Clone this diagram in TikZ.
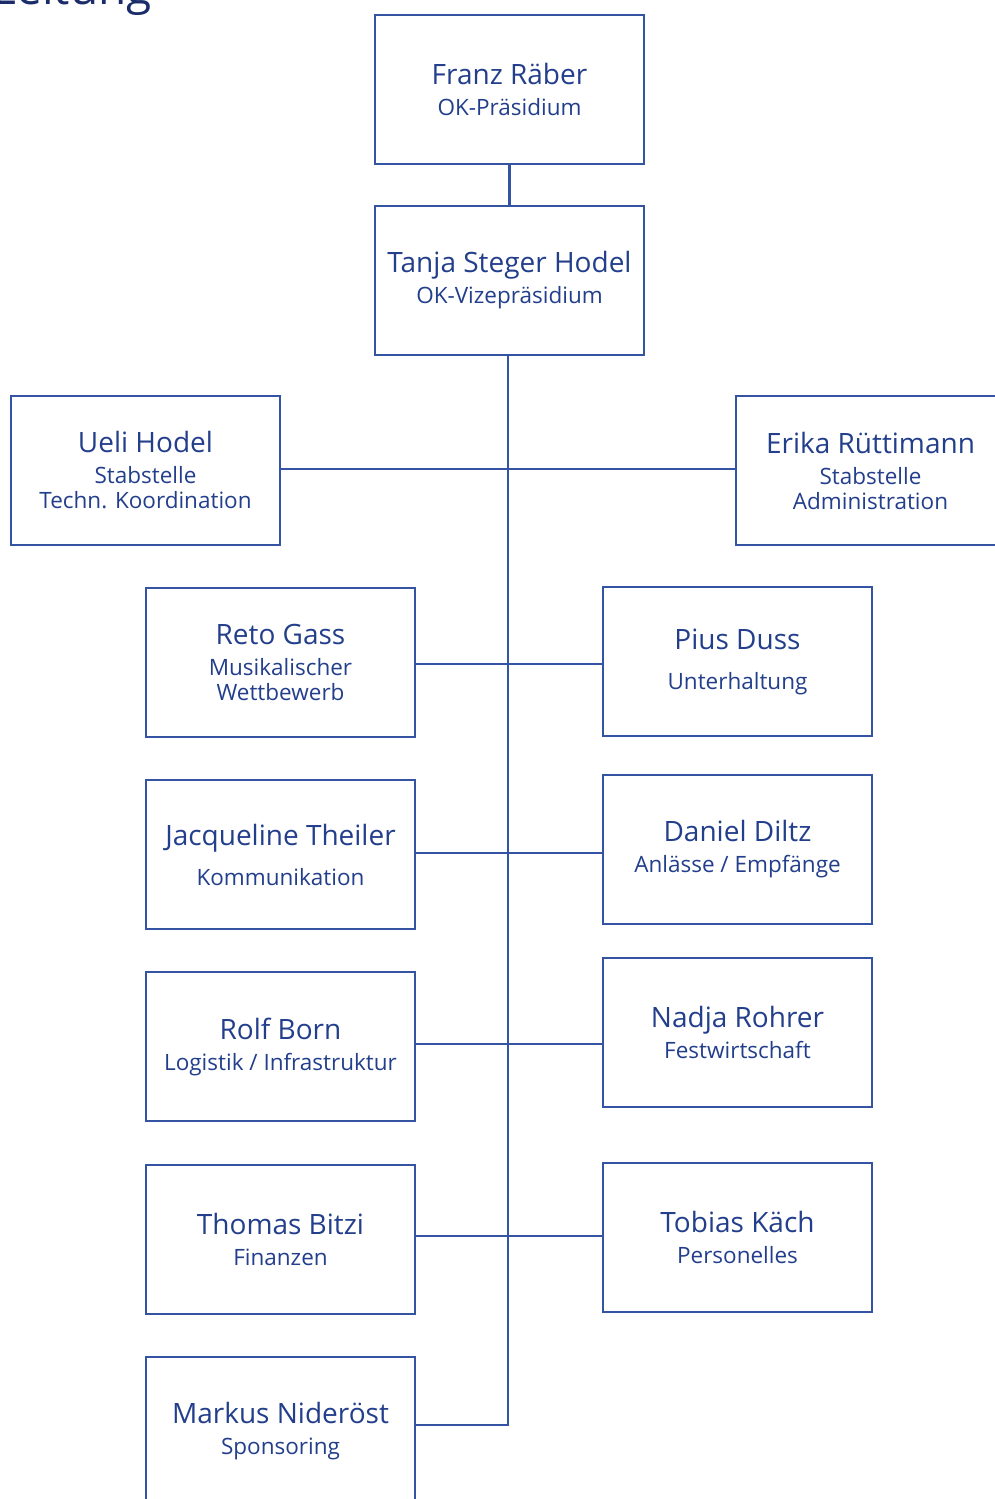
\documentclass[tikz,border=0pt]{standalone}
\usepackage{fontspec}
\setmainfont{Open Sans}
\definecolor{lineblue}{HTML}{3453A3}
\definecolor{textblue}{HTML}{233F8C}
\definecolor{headnavy}{HTML}{1B2C6A}
\newcommand{\nm}[1]{{\fontsize{28}{25}\selectfont #1}}
\newcommand{\sbt}[1]{{\fontsize{22.5}{25}\selectfont #1}}
\tikzset{
  orgbox/.style={draw=lineblue, line width=2.6pt, fill=white, minimum width=269pt, minimum height=149pt, inner sep=0pt, align=center, text=textblue, font=\fontsize{24}{25}\selectfont},
  link/.style={draw=lineblue, line width=2.6pt},
}
\begin{document}
\begin{tikzpicture}[x=1pt,y=-1pt]
\useasboundingbox (0,0) rectangle (994,1499);
\fill[white] (0,0) rectangle (994,1499);
\node[anchor=base east, text=headnavy, font=\fontsize{46}{50}\selectfont, inner sep=0pt] (head) at (152,5) {Leitung};
% spine junctions
\coordinate (spineTop) at (508,355);
\coordinate (j1) at (508,469);
\coordinate (j2) at (508,664);
\coordinate (j3) at (508,853);
\coordinate (j4) at (508,1044);
\coordinate (j5) at (508,1236);
\coordinate (j6) at (508,1425);
% boxes
\node[orgbox] (franz) at (509.5,89.5) {\nm{Franz Räber}\\[6pt]\sbt{OK-Präsidium}};
\node[orgbox] (tanja) at (509.5,280.5) {\nm{Tanja Steger Hodel}\\[6pt]\sbt{OK-Vizepräsidium}};
\node[orgbox] (ueli) at (145.5,470.5) {\nm{Ueli Hodel}\\[6pt]\sbt{Stabstelle}\\[0pt]\sbt{Techn. Koordination}};
\node[orgbox] (erika) at (870.5,470.5) {\nm{Erika Rüttimann}\\[6pt]\sbt{Stabstelle}\\[0pt]\sbt{Administration}};
\node[orgbox] (reto) at (280.5,662.5) {\nm{Reto Gass}\\[6pt]\sbt{Musikalischer}\\[0pt]\sbt{Wettbewerb}};
\node[orgbox] (pius) at (737.5,661.5) {\nm{Pius Duss}\\[15pt]\sbt{Unterhaltung}};
\node[orgbox] (jac) at (280.5,854.5) {\nm{Jacqueline Theiler}\\[15pt]\sbt{Kommunikation}};
\node[orgbox] (daniel) at (737.5,849.5) {\nm{Daniel Diltz}\\[6pt]\sbt{Anlässe / Empfänge}};
\node[orgbox] (rolf) at (280.5,1046.5) {\nm{Rolf Born}\\[6pt]\sbt{Logistik / Infrastruktur}};
\node[orgbox] (nadja) at (737.5,1032.5) {\nm{Nadja Rohrer}\\[6pt]\sbt{Festwirtschaft}};
\node[orgbox] (thomas) at (280.5,1239.5) {\nm{Thomas Bitzi}\\[6pt]\sbt{Finanzen}};
\node[orgbox] (tobias) at (737.5,1237.5) {\nm{Tobias Käch}\\[6pt]\sbt{Personelles}};
\node[orgbox] (markus) at (280.5,1431.5) {\nm{Markus Nideröst}\\[6pt]\sbt{Sponsoring}};
% connectors
\draw[link] (franz.south) -- (tanja.north);
\draw[link] (tanja.south -| spineTop) -- (j6) -- (j6 -| markus.east);
\draw[link] (j1 -| ueli.east) -- (j1 -| erika.west);
\draw[link] (j2 -| reto.east) -- (j2 -| pius.west);
\draw[link] (j3 -| jac.east) -- (j3 -| daniel.west);
\draw[link] (j4 -| rolf.east) -- (j4 -| nadja.west);
\draw[link] (j5 -| thomas.east) -- (j5 -| tobias.west);
\end{tikzpicture}
\end{document}
